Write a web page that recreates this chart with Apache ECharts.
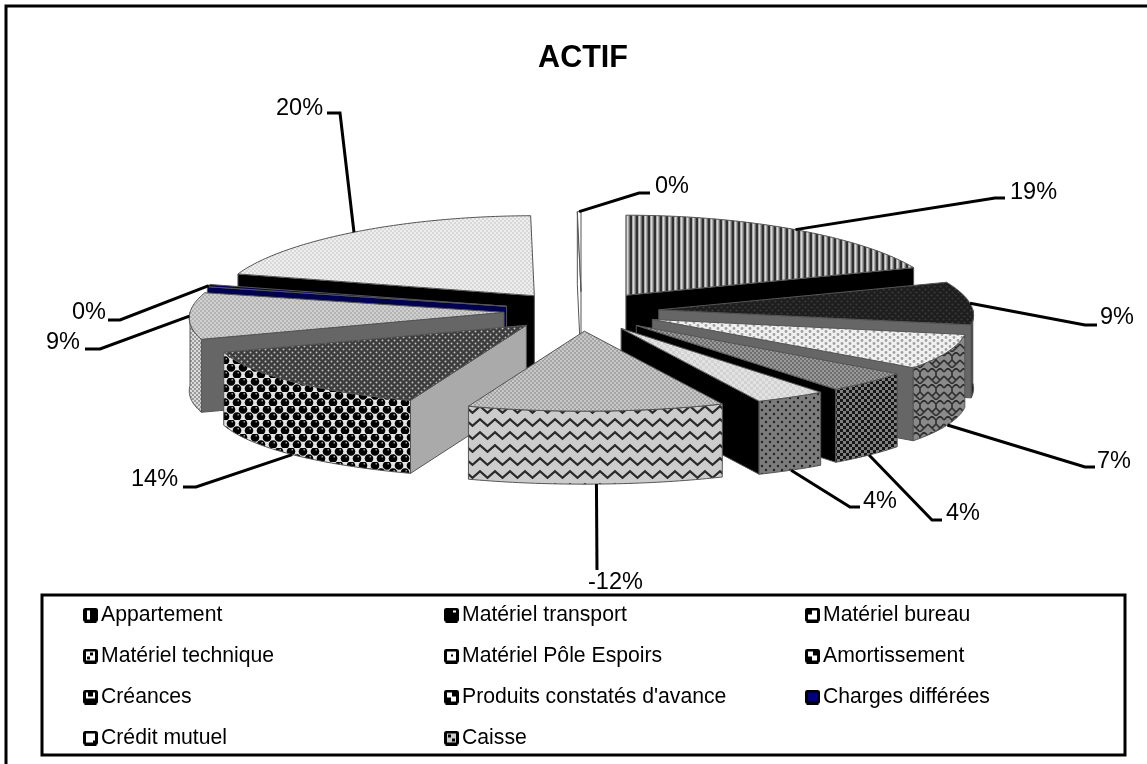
<!DOCTYPE html>
<html>
<head>
<meta charset="utf-8">
<title>ACTIF</title>
<script src="https://cdn.jsdelivr.net/npm/echarts@6/dist/echarts.min.js"></script>
<style>
html, body { margin: 0; padding: 0; background: #fff; }
#main { width: 1147px; height: 764px; }
</style>
</head>
<body>
<div id="main"></div>
<script>
// values, in % of the absolute total
var categories = ['Appartement', 'Matériel transport', 'Matériel bureau', 'Matériel technique', 'Matériel Pôle Espoirs',
    'Amortissement', 'Créances', 'Produits constatés d\'avance', 'Charges différées', 'Crédit mutuel', 'Caisse'];
var values = [19.4, 8.6, 7.3, 4.4, 3.5, -12.4, 13.9, 9.4, 0.45, 20.4, 0.2];

var fontName = '"Liberation Sans", Arial, sans-serif';

// 3d pie projection, perspective widens the front of the pie a little
var cx = 581.5, cy = 311.4, rx = 314, ry = 80, explode = 0.247, depth = 73, perspective = 0.07;

// back to front
var drawOrder = [9, 10, 0, 8, 1, 7, 2, 3, 6, 4, 5];

// leader line elbow, leader end, label left/middle
var elbows = [[995, 198], [1085, 325], [1085, 467], [932, 520], [850, 507], [597, 570], [196, 487], [100, 349], [120, 320], [340, 113], [639, 193]];
var leaderEnds = [[1005, 198], [1097, 325], [1095, 467], [942, 520], [860, 507], [597, 570], [183, 487], [85, 349], [108, 320], [327, 113], [650, 193]];
var labelPos = [[1010, 193], [1100, 318], [1097, 462], [946, 514], [863, 502], [588, 583], [131, 480], [46, 343], [72, 313], [276, 109], [655, 187]];

function tile(w, h, draw) {
    var c = document.createElement('canvas');
    c.width = w;
    c.height = h;
    draw(c.getContext('2d'), w, h);
    return { image: c, repeat: 'repeat' };
}
function solid(ctx, w, h, color) {
    ctx.fillStyle = color;
    ctx.fillRect(0, 0, w, h);
}
function dots(bg, fg, w, h, r) {
    return tile(w, h, function (ctx) {
        solid(ctx, w, h, bg);
        ctx.fillStyle = fg;
        [[w / 4, h / 4], [w * 3 / 4, h * 3 / 4]].forEach(function (p) {
            ctx.beginPath();
            ctx.arc(p[0], p[1], r, 0, Math.PI * 2);
            ctx.fill();
        });
    });
}
function checker(a, b, n) {
    return tile(n * 2, n * 2, function (ctx) {
        solid(ctx, n * 2, n * 2, a);
        ctx.fillStyle = b;
        ctx.fillRect(0, 0, n, n);
        ctx.fillRect(n, n, n, n);
    });
}
function stripes() {
    return tile(6, 6, function (ctx) {
        solid(ctx, 6, 6, '#a8a8a8');
        ctx.fillStyle = '#303030';
        ctx.fillRect(0, 0, 2, 6);
        ctx.fillStyle = '#d8d8d8';
        ctx.fillRect(3, 0, 1, 6);
        ctx.fillStyle = '#707070';
        ctx.fillRect(5, 0, 1, 6);
    });
}
function balls() {
    return tile(12, 14, function (ctx) {
        solid(ctx, 12, 14, '#e4e4e4');
        [[3, 3.5], [9, 10.5], [-3, 10.5], [15, 3.5]].forEach(function (p) {
            ctx.fillStyle = '#000';
            ctx.beginPath();
            ctx.arc(p[0], p[1], 4.3, 0, Math.PI * 2);
            ctx.fill();
            ctx.fillStyle = '#999';
            ctx.fillRect(p[0] + 0.5, p[1] - 2.5, 1.5, 1.5);
        });
    });
}
function zigzag(bg, fg, w, h, lw) {
    return tile(w, h, function (ctx) {
        solid(ctx, w, h, bg);
        ctx.strokeStyle = fg;
        ctx.lineWidth = lw;
        ctx.beginPath();
        ctx.moveTo(-w / 2, h * 0.75);
        ctx.lineTo(0, h * 0.25);
        ctx.lineTo(w / 2, h * 0.75);
        ctx.lineTo(w, h * 0.25);
        ctx.lineTo(w * 1.5, h * 0.75);
        ctx.stroke();
    });
}
function weave() {
    return tile(16, 16, function (ctx) {
        solid(ctx, 16, 16, '#8a8a8a');
        ctx.strokeStyle = '#2e2e2e';
        ctx.lineWidth = 1.6;
        ctx.beginPath();
        ctx.moveTo(0, 4); ctx.lineTo(4, 0); ctx.lineTo(8, 4); ctx.lineTo(8, 8); ctx.lineTo(12, 12); ctx.lineTo(16, 8);
        ctx.moveTo(8, 8); ctx.lineTo(4, 12); ctx.lineTo(0, 8);
        ctx.moveTo(8, 4); ctx.lineTo(12, 0);
        ctx.moveTo(16, 4); ctx.lineTo(12, 0);
        ctx.moveTo(4, 12); ctx.lineTo(8, 16);
        ctx.moveTo(12, 12); ctx.lineTo(8, 16);
        ctx.stroke();
    });
}

var topFills = [stripes(), dots('#1e1e1e', '#3a3a3a', 6, 6, 1.1), dots('#f0f0f0', '#a0a0a0', 8, 6, 1.4), checker('#6e6e6e', '#999999', 2),
    checker('#d2d2d2', '#e2e2e2', 3), checker('#a4a4a4', '#c8c8c8', 2), dots('#3c3c3c', '#c0c0c0', 6, 6, 1),
    checker('#b4b4b4', '#d0d0d0', 2), '#000050', dots('#eeeeee', '#bdbdbd', 4, 4, 0.8), '#ffffff'];
var arcFills = [stripes(), dots('#1e1e1e', '#3a3a3a', 6, 6, 1.1), weave(), checker('#151515', '#808080', 3),
    dots('#7c7c7c', '#222222', 8, 8, 1.2), zigzag('#cccccc', '#2a2a2a', 15, 13, 2.2), balls(),
    checker('#9a9a9a', '#dddddd', 2), '#000050', '#eeeeee', '#ffffff'];
var wallColors = ['#000000', '#666666', '#666666', '#000000', '#000000', '#aaaaaa', '#aaaaaa', '#666666', '#000050', '#000000', '#ffffff'];

// small legend keys: black rounded square with pieces painted on it
var keyPieces = [
    [[4, 3, 3, 9, '#fff']],
    [[9, 3, 3, 2, '#fff']],
    [[7, 3, 5, 9, '#fff'], [3, 7, 4, 5, '#fff']],
    [[3, 3, 9, 9, '#fff'], [7, 4, 3, 3, '#000'], [4, 8, 3, 3, '#000']],
    [[3, 3, 9, 9, '#fff'], [7, 6, 2, 2, '#000']],
    [[3, 3, 9, 9, '#fff'], [3, 8, 4, 4, '#000'], [8, 3, 4, 4, '#000']],
    [[3, 3, 2, 6, '#fff'], [5, 7, 5, 2, '#fff'], [10, 3, 2, 6, '#fff']],
    [[3, 3, 9, 9, '#fff'], [3, 8, 4, 4, '#000'], [8, 3, 4, 4, '#000']],
    [[3, 3, 9, 9, '#000080']],
    [[3, 3, 9, 9, '#fff'], [10, 10, 2, 2, '#000']],
    [[3, 3, 9, 9, '#ccc'], [4, 4, 3, 3, '#000'], [8, 8, 3, 3, '#000']]
];
function keyIcon(i) {
    var c = document.createElement('canvas');
    c.width = 15;
    c.height = 15;
    var ctx = c.getContext('2d');
    ctx.fillStyle = '#000';
    ctx.beginPath();
    ctx.moveTo(2, 0); ctx.lineTo(13, 0); ctx.lineTo(15, 2); ctx.lineTo(15, 13);
    ctx.lineTo(13, 15); ctx.lineTo(2, 15); ctx.lineTo(0, 13); ctx.lineTo(0, 2);
    ctx.fill();
    keyPieces[i].forEach(function (p) {
        ctx.fillStyle = p[4];
        ctx.fillRect(p[0], p[1], p[2], p[3]);
    });
    return 'image://' + c.toDataURL();
}
function legendData(ids) {
    return ids.map(function (i) {
        return { name: categories[i], icon: keyIcon(i) };
    });
}

// start and end angle of each slice, clockwise from the back of the pie
var total = 0;
values.forEach(function (v) { total += Math.abs(v); });
var starts = [], ends = [];
var run = 0;
values.forEach(function (v, i) {
    starts[i] = run / total * 360;
    run += Math.abs(v);
    ends[i] = run / total * 360;
});

function rad(a) { return a * Math.PI / 180; }
function apex(i) {
    var mid = rad((starts[i] + ends[i]) / 2);
    return [cx + explode * rx * Math.sin(mid), cy - explode * ry * Math.cos(mid)];
}
function rim(i, a) {
    var o = apex(i);
    var s = 1 - perspective * Math.cos(rad(a));
    return [o[0] + rx * s * Math.sin(rad(a)), o[1] - ry * Math.cos(rad(a))];
}
function down(p) { return [p[0], p[1] + depth]; }
function arcPoints(i, from, to) {
    var pts = [];
    var n = Math.max(2, Math.ceil(to - from));
    for (var k = 0; k <= n; k++) {
        pts.push(rim(i, from + (to - from) * k / n));
    }
    return pts;
}

function face(points, fill) {
    return {
        type: 'polygon',
        shape: { points: points },
        style: { fill: fill, stroke: '#555555', lineWidth: 1 },
        silent: true
    };
}

function renderSlice(i) {
    var o = apex(i);
    var children = [];
    // only the faces turned to the viewer
    if (Math.sin(rad(starts[i])) < 0) {
        var a = rim(i, starts[i]);
        children.push(face([o, a, down(a), down(o)], wallColors[i]));
    }
    if (Math.sin(rad(ends[i])) > 0) {
        var b = rim(i, ends[i]);
        children.push(face([o, b, down(b), down(o)], wallColors[i]));
    }
    var lo = Math.max(starts[i], 90), hi = Math.min(ends[i], 270);
    if (hi > lo) {
        var front = arcPoints(i, lo, hi);
        children.push(face(front.concat(front.slice().reverse().map(down)), arcFills[i]));
    }
    children.push(face([o].concat(arcPoints(i, starts[i], ends[i])), topFills[i]));
    return { type: 'group', children: children };
}

function renderLabels() {
    var children = [];
    values.forEach(function (v, i) {
        var mid = (starts[i] + ends[i]) / 2;
        var from = rim(i, mid);
        if (Math.cos(rad(mid)) < -0.2) from = down(from);
        children.push({
            type: 'polyline',
            shape: { points: [from, elbows[i], leaderEnds[i]] },
            style: { fill: null, stroke: '#000', lineWidth: 3 },
            silent: true
        });
        children.push({
            type: 'text',
            x: labelPos[i][0],
            y: labelPos[i][1],
            style: {
                text: Math.round(v) + '%',
                fill: '#000',
                font: '23.5px ' + fontName,
                textAlign: 'left',
                textVerticalAlign: 'middle'
            },
            silent: true
        });
    });
    return { type: 'group', children: children };
}

var series = drawOrder.map(function (i) {
    return {
        type: 'custom',
        name: categories[i],
        coordinateSystem: 'none',
        animation: false,
        silent: true,
        data: [[values[i]]],
        renderItem: function () { return renderSlice(i); }
    };
});
series.push({
    type: 'custom',
    name: 'labels',
    coordinateSystem: 'none',
    animation: false,
    silent: true,
    z: 5,
    data: [[0]],
    renderItem: renderLabels
});

function legendColumn(ids, left) {
    return {
        orient: 'vertical',
        left: left,
        top: 603,
        padding: 0,
        itemWidth: 15,
        itemHeight: 15,
        itemGap: 17,
        selectedMode: false,
        textStyle: { fontSize: 21.2, lineHeight: 24, fontFamily: fontName, color: '#000', padding: [0, 0, 0, -2] },
        data: legendData(ids)
    };
}

var option = {
    animation: false,
    backgroundColor: '#fff',
    title: {
        text: 'ACTIF',
        left: 583,
        top: 43,
        padding: 0,
        textAlign: 'center',
        textStyle: { fontSize: 30.5, fontWeight: 'bold', fontFamily: fontName, color: '#000' }
    },
    legend: [
        legendColumn([0, 3, 6, 9], 83),
        legendColumn([1, 4, 7, 10], 444),
        legendColumn([2, 5, 8], 805)
    ],
    graphic: [
        { type: 'polyline', shape: { points: [[6, 764], [6, 6], [1147, 6]] }, style: { fill: null, stroke: '#000', lineWidth: 3 }, z: 0, silent: true },
        { type: 'rect', shape: { x: 42, y: 595, width: 1083, height: 160 }, style: { fill: null, stroke: '#000', lineWidth: 3 }, z: 0, silent: true }
    ],
    series: series
};

var chartDom = document.getElementById('main');
var myChart = echarts.init(chartDom);
myChart.setOption(option);
</script>
</body>
</html>
